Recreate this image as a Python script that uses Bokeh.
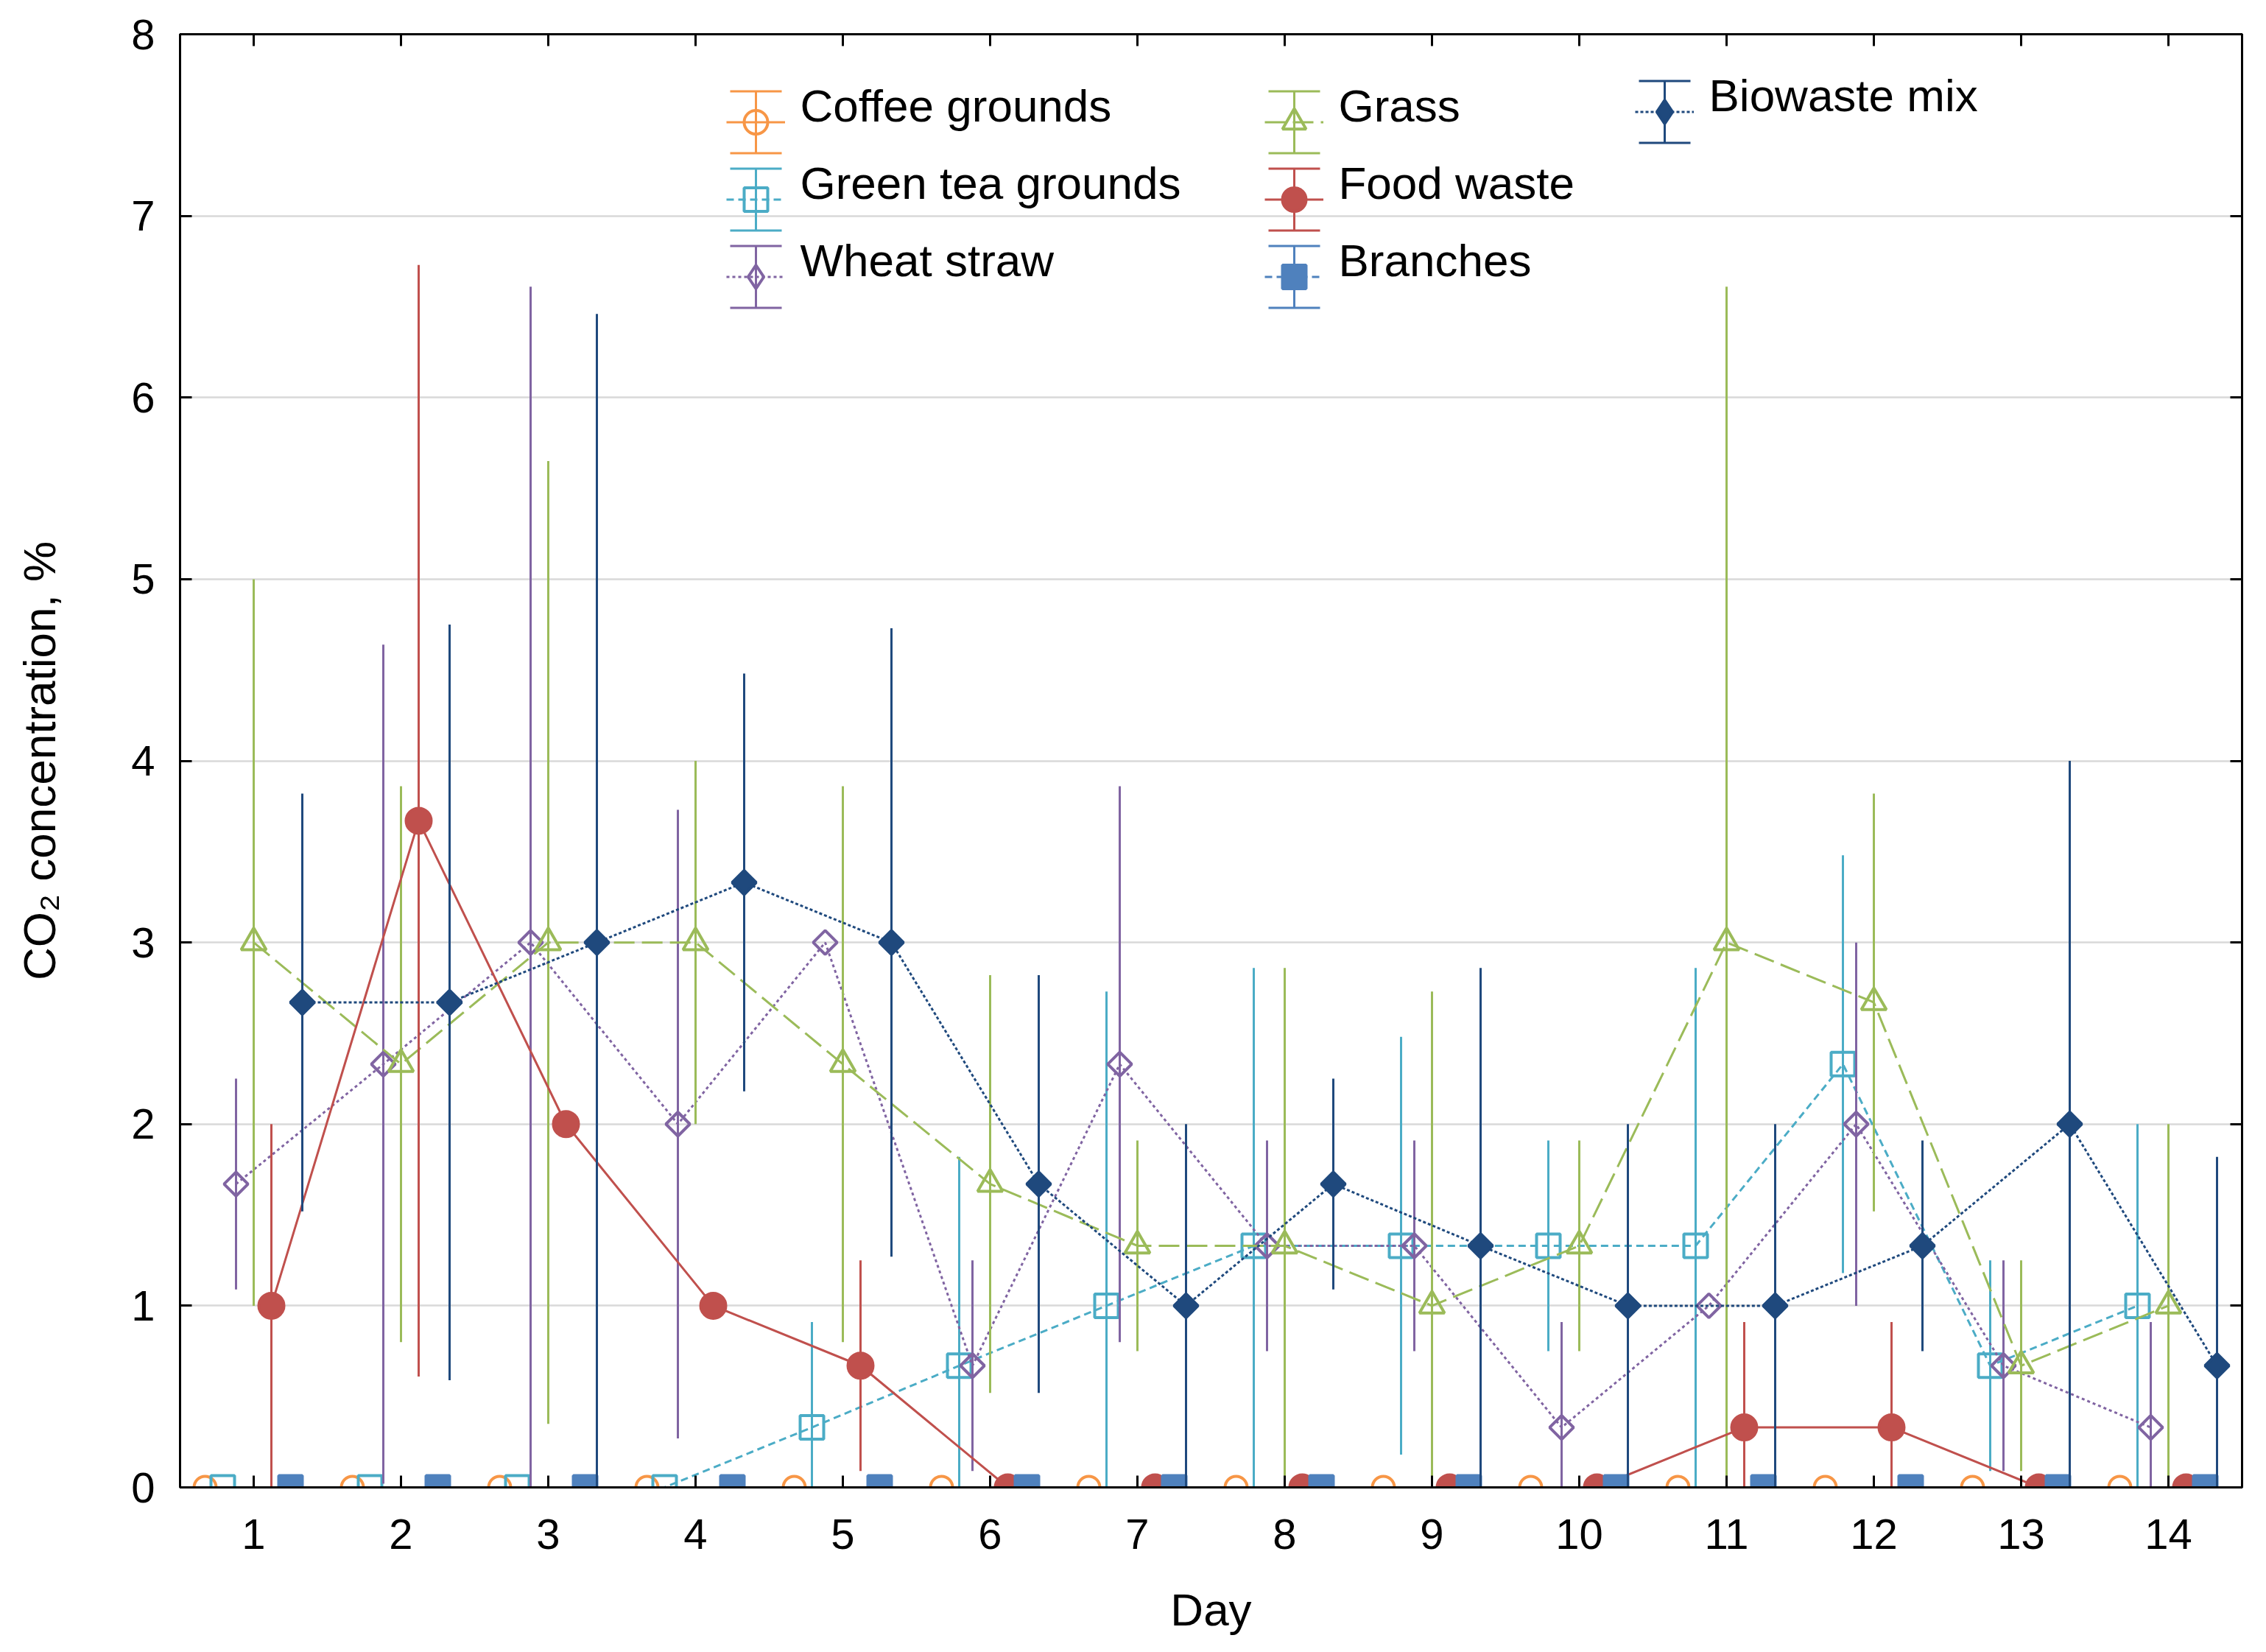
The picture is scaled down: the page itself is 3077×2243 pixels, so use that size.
import numpy as np
from bokeh.plotting import figure
from bokeh.models import (ColumnDataSource, FixedTicker, LinearAxis, Range1d,
                          Legend, LegendItem, Arrow, TeeHead, Label)
from bokeh.transform import dodge
from bokeh.embed import file_html
from bokeh.resources import INLINE

# data (CO2 %, mean and +/- error per day)
days = [1, 2, 3, 4, 5, 6, 7, 8, 9, 10, 11, 12, 13, 14]
y_ticks = [0, 1, 2, 3, 4, 5, 6, 7, 8]

coffee = [0, 0, 0, 0, 0, 0, 0, 0, 0, 0, 0, 0, 0, 0]
coffee_err = [0, 0, 0, 0, 0, 0, 0, 0, 0, 0, 0, 0, 0, 0]

tea = [0, 0, 0, 0, 0.33, 0.67, 1.0, 1.33, 1.33, 1.33, 1.33, 2.33, 0.67, 1.0]
tea_err = [0, 0, 0, 0, 0.58, 1.15, 1.73, 1.53, 1.15, 0.58, 1.53, 1.15, 0.58, 1.0]

wheat = [1.67, 2.33, 3.0, 2.0, 3.0, 0.67, 2.33, 1.33, 1.33, 0.33, 1.0, 2.0, 0.67, 0.33]
wheat_err = [0.58, 2.31, 3.61, 1.73, 0, 0.58, 1.53, 0.58, 0.58, 0.58, 0, 1.0, 0.58, 0.58]

grass = [3.0, 2.33, 3.0, 3.0, 2.33, 1.67, 1.33, 1.33, 1.0, 1.33, 3.0, 2.67, 0.67, 1.0]
grass_err = [2.0, 1.53, 2.65, 1.0, 1.53, 1.15, 0.58, 1.53, 1.73, 0.58, 3.61, 1.15, 0.58, 1.0]

food = [1.0, 3.67, 2.0, 1.0, 0.67, 0, 0, 0, 0, 0, 0.33, 0.33, 0, 0]
food_err = [1.0, 3.06, 0, 0, 0.58, 0, 0, 0, 0, 0, 0.58, 0.58, 0, 0]

branches = [0, 0, 0, 0, 0, 0, 0, 0, 0, 0, 0, 0, 0, 0]
branches_err = [0, 0, 0, 0, 0, 0, 0, 0, 0, 0, 0, 0, 0, 0]

bio = [2.67, 2.67, 3.0, 3.33, 3.0, 1.67, 1.0, 1.67, 1.33, 1.0, 1.0, 1.33, 2.0, 0.67]
bio_err = [1.15, 2.08, 3.46, 1.15, 1.73, 1.15, 1.0, 0.58, 1.53, 1.0, 1.0, 0.58, 2.0, 1.15]

series = [
    ("coffee", "Coffee grounds", coffee, coffee_err),
    ("tea", "Green tea grounds", tea, tea_err),
    ("wheat", "Wheat straw", wheat, wheat_err),
    ("grass", "Grass", grass, grass_err),
    ("food", "Food waste", food, food_err),
    ("branches", "Branches", branches, branches_err),
    ("bio", "Biowaste mix", bio, bio_err),
]

# look of each series
styles = {
    "coffee":   dict(color="#F79646", off=-0.33, dash="solid", marker="circle", size=30, fill=False, angle=0),
    "tea":      dict(color="#4BACC6", off=-0.21, dash="10 6", marker="square", size=32, fill=False, angle=0),
    "wheat":    dict(color="#8064A2", off=-0.12, dash="4 4", marker="square", size=23, fill=False, angle=np.pi/4),
    "grass":    dict(color="#9BBB59", off=0.0, dash="28 10", marker="triangle", size=34, fill=False, angle=0),
    "food":     dict(color="#C0504D", off=0.12, dash="solid", marker="circle", size=34, fill=True, angle=0),
    "branches": dict(color="#4F81BD", off=0.25, dash="10 6", marker="square", size=32, fill=True, angle=0),
    "bio":      dict(color="#1F497D", off=0.33, dash="4 3", marker="square", size=23, fill=True, angle=np.pi/4),
}

FONT = "Liberation Sans"
W, H = 3061, 2227
BL, BR, BT, BB = 244, 17, 46, 208
FRAME_W = W - BL - BR
FRAME_H = H - BT - BB

data = {"day": days}
for key, name, vals, errs in series:
    v = np.array(vals, dtype=float)
    e = np.array(errs, dtype=float)
    data[key] = v
    data[key + "_lo"] = v - e
    data[key + "_hi"] = v + e
src = ColumnDataSource(data)

p = figure(width=W, height=H, x_range=Range1d(0.5, 14.5), y_range=Range1d(0, 8),
           output_backend="svg", toolbar_location=None,
           min_border_left=BL, min_border_right=BR, min_border_top=BT, min_border_bottom=BB,
           x_axis_label="Day", y_axis_label="CO\u2082 concentration, %")
p.background_fill_color = "white"
p.border_fill_color = "white"
p.outline_line_color = "black"
p.outline_line_width = 3

p.xaxis.ticker = FixedTicker(ticks=days)
p.yaxis.ticker = FixedTicker(ticks=y_ticks)
p.xgrid.visible = False
p.ygrid.ticker = FixedTicker(ticks=y_ticks)
p.ygrid.grid_line_color = "#d9d9d9"
p.ygrid.grid_line_width = 2.5

for ax in (p.xaxis[0], p.yaxis[0]):
    ax.axis_line_width = 3
    ax.major_tick_in = 16
    ax.major_tick_out = 0
    ax.major_tick_line_width = 3
    ax.minor_tick_line_color = None
    ax.major_label_text_font = FONT
    ax.major_label_text_font_size = "58px"
    ax.major_label_text_color = "black"
    ax.axis_label_text_font = FONT
    ax.axis_label_text_font_size = "62px"
    ax.axis_label_text_font_style = "normal"
    ax.axis_label_text_color = "black"
p.xaxis.major_label_standoff = 43
p.xaxis.axis_label_standoff = 45
p.yaxis.major_label_standoff = 34
p.yaxis.axis_label_standoff = 87

top_ax = LinearAxis(ticker=FixedTicker(ticks=days))
right_ax = LinearAxis(ticker=FixedTicker(ticks=y_ticks))
for ax in (top_ax, right_ax):
    ax.axis_line_width = 3
    ax.major_tick_in = 16
    ax.major_tick_out = 0
    ax.major_tick_line_width = 3
    ax.minor_tick_line_color = None
    ax.major_label_text_font_size = "1px"
    ax.major_label_text_alpha = 0
    ax.major_label_standoff = 0
p.add_layout(top_ax, "above")
p.add_layout(right_ax, "right")

legend_marks = {}
for key, name, vals, errs in series:
    st = styles[key]
    c = st["color"]
    p.segment(x0=dodge("day", st["off"]), y0=key + "_lo", x1=dodge("day", st["off"]), y1=key + "_hi",
              source=src, line_color=c, line_width=3)
    ln = p.line(x=dodge("day", st["off"]), y=key, source=src, line_color=c, line_width=3,
                line_dash=st["dash"])
    mk = p.scatter(x=dodge("day", st["off"]), y=key, source=src, marker=st["marker"], size=st["size"],
                   angle=st["angle"], line_color=c, line_width=4,
                   fill_color=c if st["fill"] else None)
    if st["angle"]:
        # diamond shown only in the legend box (zero size in the plot)
        mk = p.scatter(x=dodge("day", st["off"]), y=key, source=src, marker="diamond", size=0,
                       line_color=c, line_width=4, fill_color=c if st["fill"] else None)
    legend_marks[key] = (name, [ln, mk])

GLYPH_W, ROW_H = 80, 105
legend_cols = [
    # keys, glyph centre x and top edge, both from the frame's top-left corner
    (["coffee", "tea", "wheat"], 782, 67),
    (["grass", "food", "branches"], 1513, 67),
    (["bio"], 2016, 53),
]
for keys, cx, top in legend_cols:
    left = cx - GLYPH_W / 2
    items = [LegendItem(label=" ", renderers=legend_marks[k][1]) for k in keys]
    leg = Legend(items=items, location=(left, FRAME_H - top - len(keys) * ROW_H),
                 orientation="vertical", glyph_width=GLYPH_W, glyph_height=ROW_H,
                 label_height=ROW_H, label_standoff=10, spacing=0, padding=0, margin=0,
                 border_line_alpha=0, background_fill_alpha=0,
                 label_text_font=FONT, label_text_font_size="62px")
    p.add_layout(leg)
    for i, k in enumerate(keys):
        c = styles[k]["color"]
        cy = FRAME_H - (top + i * ROW_H + ROW_H / 2)
        # error-bar symbol behind each legend marker
        p.add_layout(Arrow(x_start=cx, y_start=cy - 42, x_end=cx, y_end=cy + 42,
                           start_units="screen", end_units="screen",
                           start=TeeHead(size=70, line_color=c, line_width=3),
                           end=TeeHead(size=70, line_color=c, line_width=3),
                           line_color=c, line_width=3, level="underlay"))
        # label text sits a little above the glyph's centre
        p.add_layout(Label(x=cx + 60, y=cy + 23, x_units="screen", y_units="screen",
                           text=legend_marks[k][0], text_font=FONT, text_font_size="62px",
                           text_baseline="middle", text_align="left", text_color="black"))

open("out.html", "w").write(file_html(p, INLINE))
